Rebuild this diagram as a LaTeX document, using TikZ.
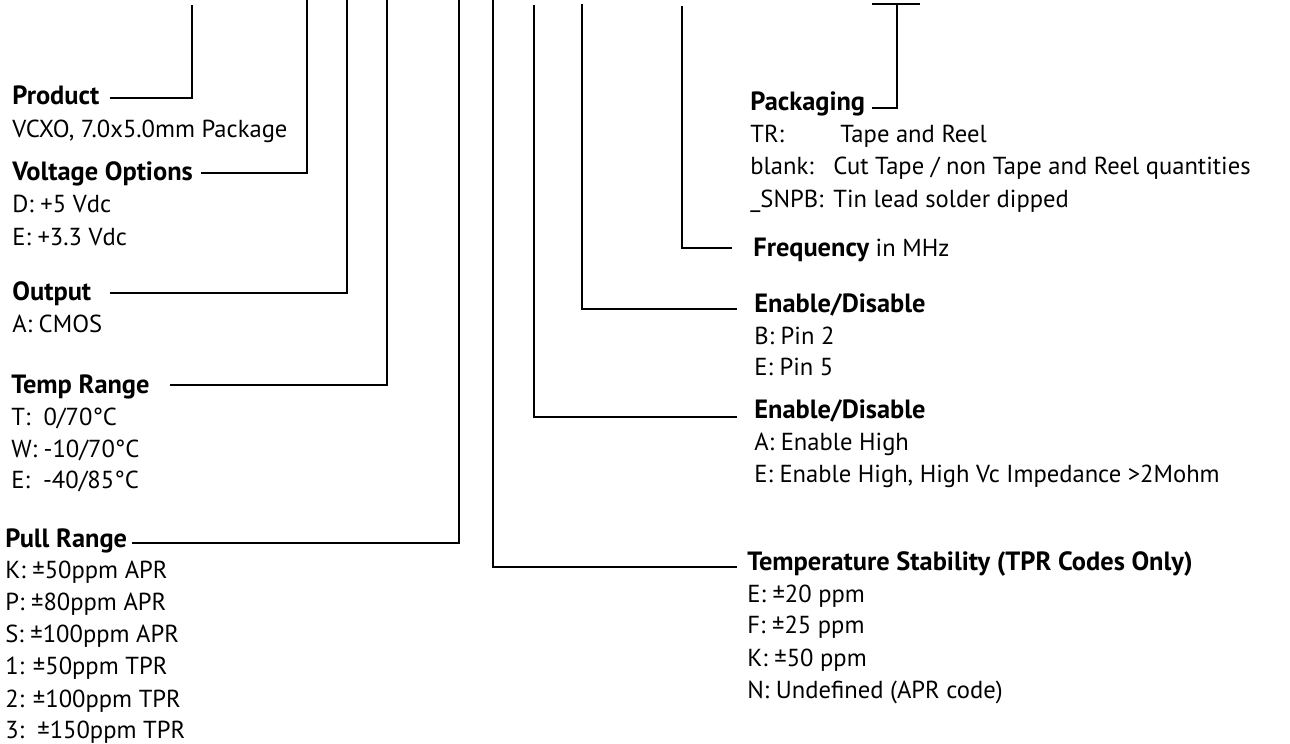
\documentclass[tikz,border=0pt]{standalone}
\usepackage{fontspec}
\setmainfont{PT Sans}
\usetikzlibrary{positioning}
\newcommand{\lblfont}{\fontsize{12.3}{14}\selectfont}
\newcommand{\hdfont}{\fontsize{13.2}{15}\selectfont\bfseries}
\tikzset{
  head/.style={anchor=base west, inner sep=0pt, font=\hdfont},
  body/.style={anchor=base west, inner sep=0pt, font=\lblfont},
  lead/.style={line width=1.3pt},
}

\begin{document}
\begin{tikzpicture}[x=0.5pt, y=-0.5pt]
\useasboundingbox (0,0) rectangle (1290,744);
% upper ends of the leads, where the part number would sit
\coordinate (tProduct) at (192,5);
\coordinate (tVolt) at (307,0);
\coordinate (tOut) at (347,0);
\coordinate (tTemp) at (387,0);
\coordinate (tPull) at (459,0);
\coordinate (tStab) at (493,0);
\coordinate (tEnA) at (534,5);
\coordinate (tEnB) at (582,4);
\coordinate (tFreq) at (682,6);
\coordinate (tPack) at (897,4);
\coordinate (teeL) at (872,4);
\coordinate (teeR) at (920,4);
% left column
\node[head] (prodH) at (12,104) {Product};
\node[body] (prodB) at (12,137) {VCXO, 7.0x5.0mm Package};
\node[head] (voltH) at (12,180) {Voltage Options};
\node[body] (voltD) at (12,212) {D: +5 Vdc};
\node[body] (voltE) at (12,245) {E: +3.3 Vdc};
\node[head] (outH) at (12,300) {Output};
\node[body] (outA) at (12,332) {A: CMOS};
\node[head] (tempH) at (11,393) {Temp Range};
\node[body] (tempT) at (11,425) {T:\ \ 0/70°C};
\node[body] (tempW) at (11,457) {W: -10/70°C};
\node[body] (tempE) at (11,488) {E:\ \ -40/85°C};
\node[head] (pullH) at (5,547) {Pull Range};
\node[body] (pullK) at (5,578) {K: ±50ppm APR};
\node[body] (pullP) at (5,610) {P: ±80ppm APR};
\node[body] (pullS) at (5,642) {S: ±100ppm APR};
\node[body] (pull1) at (5,674) {1: ±50ppm TPR};
\node[body] (pull2) at (5,707) {2: ±100ppm TPR};
\node[body] (pull3) at (5,738) {3:\ \ ±150ppm TPR};
% right column
\node[head] (packH) at (750,110) {Packaging};
\node[body] (packTR) at (750,142) {\makebox[45pt][l]{TR:}Tape and Reel};
\node[body] (packBl) at (750,174) {\makebox[41.5pt][l]{blank:}Cut Tape / non Tape and Reel quantities};
\node[body] (packSn) at (750,207) {\makebox[41.5pt][l]{\_SNPB:}Tin lead solder dipped};
\node[body] (freq) at (753,256) {{\hdfont Frequency} in MHz};
\node[head] (enbH) at (754,312) {Enable/Disable};
\node[body] (enbB) at (754,344) {B: Pin 2};
\node[body] (enbE) at (754,375) {E: Pin 5};
\node[head] (enaH) at (754,418) {Enable/Disable};
\node[body] (enaA) at (754,450) {A: Enable High};
\node[body] (enaE) at (754,482) {E: Enable High, High Vc Impedance >2Mohm};
\node[head] (stabH) at (747,570) {Temperature Stability (TPR Codes Only)};
\node[body] (stabE) at (747,602) {E: ±20 ppm};
\node[body] (stabF) at (747,633) {F: ±25 ppm};
\node[body] (stabK) at (747,666) {K: ±50 ppm};
\node[body] (stabN) at (747,698) {N: Undefined (APR code)};
% leads
\draw[lead] (prodH.base east) ++(10,-6) -| (tProduct);
\draw[lead] (voltH.base east) ++(8,-7) -| (tVolt);
\draw[lead] (outH.base east) ++(18,-7) -| (tOut);
\draw[lead] (tempH.base east) ++(20,-8) -| (tTemp);
\draw[lead] (pullH.base east) ++(5,-4) -| (tPull);
\draw[lead] (tStab) |- ([xshift=-5pt,yshift=1.5pt]stabH.base west);
\draw[lead] (tEnA) |- ([xshift=-8.5pt,yshift=0.5pt]enaH.base west);
\draw[lead] (tEnB) |- ([xshift=-8.5pt,yshift=1.5pt]enbH.base west);
\draw[lead] (tFreq) |- ([xshift=-10.5pt,yshift=4pt]freq.base west);
\draw[lead] (teeL) -- (teeR);
\draw[lead] (tPack) |- ([xshift=3pt,yshift=1pt]packH.base east);
\end{tikzpicture}
\end{document}
